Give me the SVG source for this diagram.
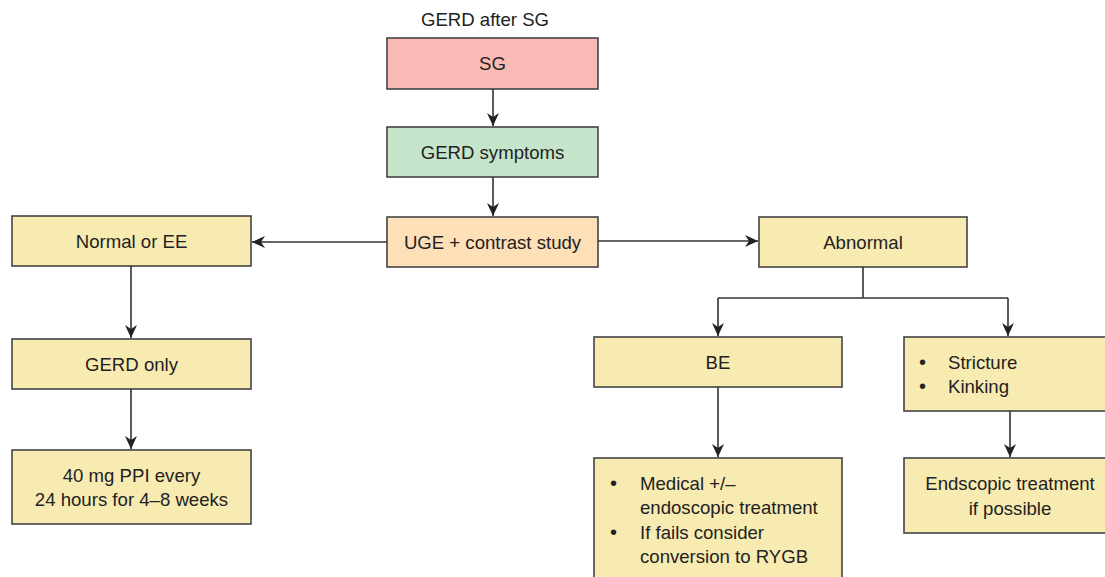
<svg xmlns="http://www.w3.org/2000/svg" width="1105" height="577" viewBox="0 0 1105 577">
<defs>
<marker id="ah" markerUnits="userSpaceOnUse" markerWidth="14" markerHeight="12" refX="13" refY="6" orient="auto">
<path d="M0,0 L13,6 L0,12 L4,6 Z" fill="#222"/>
</marker>
<style>
.box{stroke:#444;stroke-width:1.6}
.y{fill:#F8EBB2}
.t{font-family:"Liberation Sans",Arial,sans-serif;font-size:18.6px;fill:#222}
.b{font-family:"Liberation Sans",Arial,sans-serif;font-size:20px;fill:#222}
.m{text-anchor:middle}
.c{fill:none;stroke:#333;stroke-width:1.6}
</style>
</defs>
<rect width="1105" height="577" fill="#fff"/>
<text class="t m" x="485" y="26">GERD after SG</text>
<g id="sg"><rect class="box" x="387" y="38" width="211" height="51" fill="#F9BAB5"/><text class="t m" x="492.5" y="70">SG</text></g>
<g id="symptoms"><rect class="box" x="387" y="127" width="211" height="50" fill="#C4E5CA"/><text class="t m" x="492.5" y="159">GERD symptoms</text></g>
<g id="uge"><rect class="box" x="387" y="217" width="211" height="50" fill="#FDDFB8"/><text class="t m" x="492.5" y="249">UGE + contrast study</text></g>
<g id="normal"><rect class="box y" x="12" y="216" width="239" height="50"/><text class="t m" x="131.5" y="248">Normal or EE</text></g>
<g id="gerdonly"><rect class="box y" x="12" y="339" width="239" height="50"/><text class="t m" x="131.5" y="371">GERD only</text></g>
<g id="ppi"><rect class="box y" x="12" y="450" width="239" height="74"/><text class="t m" x="131.5" y="482">40 mg PPI every</text><text class="t m" x="131.5" y="506">24 hours for 4–8 weeks</text></g>
<g id="abnormal"><rect class="box y" x="759" y="217" width="208" height="50"/><text class="t m" x="863" y="249">Abnormal</text></g>
<g id="be"><rect class="box y" x="594" y="337" width="248" height="50"/><text class="t m" x="718" y="369">BE</text></g>
<g id="stricture"><rect class="box y" x="904" y="337" width="210" height="74"/><text class="b" x="919" y="369">•</text><text class="t" x="948" y="369">Stricture</text><text class="b" x="919" y="393">•</text><text class="t" x="948" y="393">Kinking</text></g>
<g id="medical"><rect class="box y" x="594" y="458" width="248" height="130"/><text class="b" x="610" y="490">•</text><text class="t" x="640" y="490">Medical +/–</text><text class="t" x="640" y="514">endoscopic treatment</text><text class="b" x="610" y="539">•</text><text class="t" x="640" y="539">If fails consider</text><text class="t" x="640" y="563">conversion to RYGB</text></g>
<g id="endoscopic"><rect class="box y" x="904" y="458" width="210" height="75"/><text class="t m" x="1010" y="490">Endscopic treatment</text><text class="t m" x="1010" y="515">if possible</text></g>
<g id="connectors">
<line class="c" x1="493" y1="89" x2="493" y2="126" marker-end="url(#ah)"/>
<line class="c" x1="493" y1="177" x2="493" y2="216" marker-end="url(#ah)"/>
<line class="c" x1="387" y1="242" x2="252" y2="242" marker-end="url(#ah)"/>
<line class="c" x1="598" y1="241" x2="758" y2="241" marker-end="url(#ah)"/>
<line class="c" x1="131" y1="266" x2="131" y2="338" marker-end="url(#ah)"/>
<line class="c" x1="131" y1="389" x2="131" y2="449" marker-end="url(#ah)"/>
<polyline class="c" points="863,267 863,298"/>
<polyline class="c" points="718,298 1008,298"/>
<line class="c" x1="718" y1="298" x2="718" y2="336" marker-end="url(#ah)"/>
<line class="c" x1="1008" y1="298" x2="1008" y2="336" marker-end="url(#ah)"/>
<line class="c" x1="718" y1="387" x2="718" y2="457" marker-end="url(#ah)"/>
<line class="c" x1="1010" y1="411" x2="1010" y2="457" marker-end="url(#ah)"/>
</g>
</svg>
